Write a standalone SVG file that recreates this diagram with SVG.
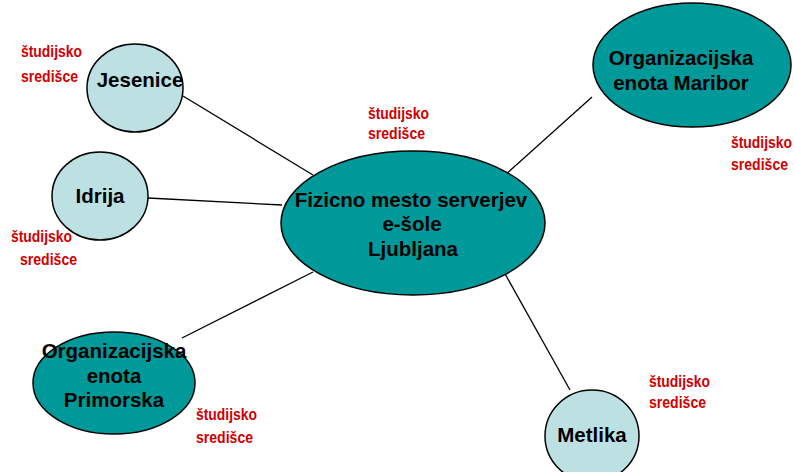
<svg xmlns="http://www.w3.org/2000/svg" width="794" height="472" viewBox="0 0 794 472">
<style>
.n{stroke:#000;stroke-width:1.5}
.t{fill:#009999}
.l{fill:#bde0e3}
.tx{font-family:"Liberation Sans",Arial,sans-serif;font-weight:bold;font-size:20.5px;fill:#000;text-anchor:middle}
.r{font-family:"Liberation Sans",Arial,sans-serif;font-weight:bold;font-size:17px;fill:#d00000}
.c{stroke:#000;stroke-width:1.3;fill:none}
</style>
<rect width="794" height="472" fill="#fff"/>
<g id="connectors">
<line class="c" x1="183" y1="96" x2="313" y2="175"/>
<line class="c" x1="148" y1="198" x2="282" y2="205"/>
<line class="c" x1="182" y1="338" x2="313" y2="272"/>
<line class="c" x1="504" y1="176" x2="592" y2="97"/>
<line class="c" x1="504" y1="272" x2="570" y2="390"/>
</g>
<g id="center">
<ellipse class="n t" cx="413" cy="223" rx="132" ry="72"/>
<text class="tx" x="411" y="207">Fizicno mesto serverjev</text>
<text class="tx" x="412" y="231">e-šole</text>
<text class="tx" x="413" y="256">Ljubljana</text>
<text class="r" x="368" y="119" textLength="61" lengthAdjust="spacingAndGlyphs">študijsko</text>
<text class="r" x="368" y="139" textLength="57" lengthAdjust="spacingAndGlyphs">središce</text>
</g>
<g id="jesenice">
<ellipse class="n l" cx="135" cy="88" rx="48" ry="44"/>
<text class="tx" x="140" y="87">Jesenice</text>
<text class="r" x="21" y="57" textLength="61" lengthAdjust="spacingAndGlyphs">študijsko</text>
<text class="r" x="21" y="82" textLength="57" lengthAdjust="spacingAndGlyphs">središce</text>
</g>
<g id="idrija">
<ellipse class="n l" cx="100" cy="196" rx="48" ry="44"/>
<text class="tx" x="100" y="203">Idrija</text>
<text class="r" x="11" y="242" textLength="61" lengthAdjust="spacingAndGlyphs">študijsko</text>
<text class="r" x="20" y="265" textLength="57" lengthAdjust="spacingAndGlyphs">središce</text>
</g>
<g id="maribor">
<ellipse class="n t" cx="692" cy="65" rx="99" ry="62"/>
<text class="tx" x="681" y="65">Organizacijska</text>
<text class="tx" x="681" y="90">enota Maribor</text>
<text class="r" x="731" y="148" textLength="61" lengthAdjust="spacingAndGlyphs">študijsko</text>
<text class="r" x="731" y="170" textLength="57" lengthAdjust="spacingAndGlyphs">središce</text>
</g>
<g id="primorska">
<ellipse class="n t" cx="114" cy="383" rx="81" ry="51"/>
<text class="tx" x="114" y="358">Organizacijska</text>
<text class="tx" x="114" y="383">enota</text>
<text class="tx" x="114" y="407">Primorska</text>
<text class="r" x="196" y="420" textLength="61" lengthAdjust="spacingAndGlyphs">študijsko</text>
<text class="r" x="196" y="443" textLength="57" lengthAdjust="spacingAndGlyphs">središce</text>
</g>
<g id="metlika">
<ellipse class="n l" cx="592" cy="436" rx="47" ry="46"/>
<text class="tx" x="592" y="442">Metlika</text>
<text class="r" x="649" y="387" textLength="61" lengthAdjust="spacingAndGlyphs">študijsko</text>
<text class="r" x="649" y="408" textLength="57" lengthAdjust="spacingAndGlyphs">središce</text>
</g>
</svg>
